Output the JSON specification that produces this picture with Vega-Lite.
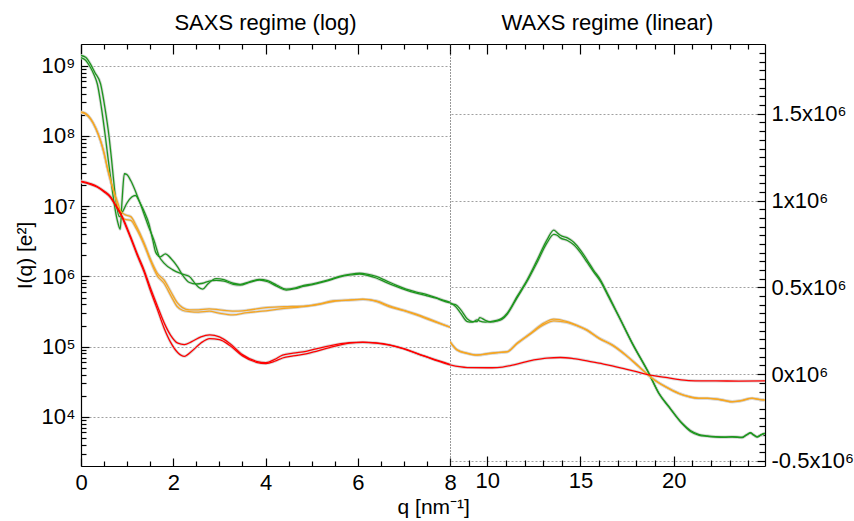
{
  "$schema": "https://vega.github.io/schema/vega-lite/v6.json",
  "background": "white",
  "padding": {"left": 14, "top": 12, "right": 5, "bottom": 5},
  "bounds": "flush",
  "spacing": 0,
  "config": {
    "font": "Liberation Sans",
    "view": {"stroke": null},
    "axis": {"labelFont": "Liberation Sans", "labelFontSize": 22, "labelColor": "black", "titleFont": "Liberation Sans", "titleFontSize": 21, "titleFontWeight": "normal", "titleColor": "black", "domainColor": "black", "domainWidth": 1.2, "tickColor": "black", "tickWidth": 1.2, "labelOverlap": false, "labelFlush": false, "gridColor": "#888888", "gridDash": [2, 2], "gridWidth": 0.8},
    "title": {"font": "Liberation Sans", "fontSize": 22, "fontWeight": "normal", "color": "black"}
  },
  "title": {"text": "q [nm⁻¹]", "orient": "bottom", "anchor": "middle", "offset": 4, "fontSize": 21},
  "datasets": {
    "saxs": [
      {"q":0,"I":1.30e9,"s":"g","c":"g1"},{"q":0.1,"I":1.2e9,"s":"g","c":"g1"},{"q":0.2,"I":9.6e8,"s":"g","c":"g1"},{"q":0.28,"I":7.5e8,"s":"g","c":"g1"},{"q":0.354,"I":5.5e8,"s":"g","c":"g1"},{"q":0.44,"I":2.6e8,"s":"g","c":"g1"},{"q":0.53,"I":9.6e7,"s":"g","c":"g1"},{"q":0.59,"I":4.6e7,"s":"g","c":"g1"},{"q":0.64,"I":2.6e7,"s":"g","c":"g1"},{"q":0.68,"I":1.67e7,"s":"g","c":"g1"},{"q":0.74,"I":9e6,"s":"g","c":"g1"},{"q":0.8,"I":5.8e6,"s":"g","c":"g1"},{"q":0.85,"I":4.7e6,"s":"g","c":"g1"},{"q":0.89,"I":1.2e7,"s":"g","c":"g1"},{"q":0.94,"I":2.9e7,"s":"g","c":"g1"},{"q":1.0,"I":2.8e7,"s":"g","c":"g1"},{"q":1.08,"I":2.3e7,"s":"g","c":"g1"},{"q":1.17,"I":1.7e7,"s":"g","c":"g1"},{"q":1.26,"I":1.2e7,"s":"g","c":"g1"},{"q":1.37,"I":8.4e6,"s":"g","c":"g1"},{"q":1.47,"I":5.7e6,"s":"g","c":"g1"},{"q":1.56,"I":3.2e6,"s":"g","c":"g1"},{"q":1.62,"I":2.2e6,"s":"g","c":"g1"},{"q":1.72,"I":1.9e6,"s":"g","c":"g1"},{"q":1.83,"I":2.1e6,"s":"g","c":"g1"},{"q":1.95,"I":1.8e6,"s":"g","c":"g1"},{"q":2.09,"I":1.38e6,"s":"g","c":"g1"},{"q":2.2,"I":1.05e6,"s":"g","c":"g1"},{"q":2.35,"I":8.2e5,"s":"g","c":"g1"},{"q":2.5,"I":7.8e5,"s":"g","c":"g1"},{"q":2.64,"I":8.0e5,"s":"g","c":"g1"},{"q":2.78,"I":8.6e5,"s":"g","c":"g1"},{"q":2.93,"I":8.8e5,"s":"g","c":"g1"},{"q":3.1,"I":8.6e5,"s":"g","c":"g1"},{"q":3.3,"I":7.7e5,"s":"g","c":"g1"},{"q":3.45,"I":7.5e5,"s":"g","c":"g1"},{"q":3.65,"I":8.2e5,"s":"g","c":"g1"},{"q":3.87,"I":8.9e5,"s":"g","c":"g1"},{"q":4.05,"I":8.4e5,"s":"g","c":"g1"},{"q":4.25,"I":7.2e5,"s":"g","c":"g1"},{"q":4.45,"I":6.4e5,"s":"g","c":"g1"},{"q":4.65,"I":6.7e5,"s":"g","c":"g1"},{"q":4.81,"I":7.2e5,"s":"g","c":"g1"},{"q":5.0,"I":7.6e5,"s":"g","c":"g1"},{"q":5.24,"I":8.3e5,"s":"g","c":"g1"},{"q":5.45,"I":9.1e5,"s":"g","c":"g1"},{"q":5.6,"I":9.8e5,"s":"g","c":"g1"},{"q":5.85,"I":1.05e6,"s":"g","c":"g1"},{"q":6.04,"I":1.08e6,"s":"g","c":"g1"},{"q":6.2,"I":1.04e6,"s":"g","c":"g1"},{"q":6.4,"I":9.5e5,"s":"g","c":"g1"},{"q":6.6,"I":8.3e5,"s":"g","c":"g1"},{"q":6.83,"I":7.2e5,"s":"g","c":"g1"},{"q":7.05,"I":6.4e5,"s":"g","c":"g1"},{"q":7.27,"I":5.8e5,"s":"g","c":"g1"},{"q":7.5,"I":5.3e5,"s":"g","c":"g1"},{"q":7.7,"I":4.9e5,"s":"g","c":"g1"},{"q":7.85,"I":4.5e5,"s":"g","c":"g1"},{"q":8.0,"I":4.2e5,"s":"g","c":"g1"},
      {"q":0,"I":1.40e9,"s":"g","c":"g2"},{"q":0.1,"I":1.32e9,"s":"g","c":"g2"},{"q":0.2,"I":1.07e9,"s":"g","c":"g2"},{"q":0.3,"I":8.0e8,"s":"g","c":"g2"},{"q":0.425,"I":5.5e8,"s":"g","c":"g2"},{"q":0.52,"I":2.5e8,"s":"g","c":"g2"},{"q":0.61,"I":9.6e7,"s":"g","c":"g2"},{"q":0.66,"I":4.8e7,"s":"g","c":"g2"},{"q":0.70,"I":2.6e7,"s":"g","c":"g2"},{"q":0.73,"I":1.67e7,"s":"g","c":"g2"},{"q":0.78,"I":9.5e6,"s":"g","c":"g2"},{"q":0.83,"I":7.1e6,"s":"g","c":"g2"},{"q":0.9,"I":8.3e6,"s":"g","c":"g2"},{"q":1.0,"I":1.12e7,"s":"g","c":"g2"},{"q":1.1,"I":1.35e7,"s":"g","c":"g2"},{"q":1.18,"I":1.42e7,"s":"g","c":"g2"},{"q":1.27,"I":1.15e7,"s":"g","c":"g2"},{"q":1.37,"I":7.6e6,"s":"g","c":"g2"},{"q":1.47,"I":5.0e6,"s":"g","c":"g2"},{"q":1.58,"I":3.3e6,"s":"g","c":"g2"},{"q":1.69,"I":1.96e6,"s":"g","c":"g2"},{"q":1.8,"I":1.55e6,"s":"g","c":"g2"},{"q":1.99,"I":1.24e6,"s":"g","c":"g2"},{"q":2.2,"I":1.08e6,"s":"g","c":"g2"},{"q":2.35,"I":1.0e6,"s":"g","c":"g2"},{"q":2.45,"I":8.3e5,"s":"g","c":"g2"},{"q":2.55,"I":7.0e5,"s":"g","c":"g2"},{"q":2.64,"I":6.6e5,"s":"g","c":"g2"},{"q":2.75,"I":7.8e5,"s":"g","c":"g2"},{"q":2.85,"I":8.9e5,"s":"g","c":"g2"},{"q":2.93,"I":9.3e5,"s":"g","c":"g2"},{"q":3.1,"I":9.0e5,"s":"g","c":"g2"},{"q":3.3,"I":8.0e5,"s":"g","c":"g2"},{"q":3.45,"I":7.7e5,"s":"g","c":"g2"},{"q":3.65,"I":8.4e5,"s":"g","c":"g2"},{"q":3.87,"I":9.1e5,"s":"g","c":"g2"},{"q":4.05,"I":8.7e5,"s":"g","c":"g2"},{"q":4.25,"I":7.5e5,"s":"g","c":"g2"},{"q":4.45,"I":6.6e5,"s":"g","c":"g2"},{"q":4.65,"I":6.9e5,"s":"g","c":"g2"},{"q":4.81,"I":7.4e5,"s":"g","c":"g2"},{"q":5.0,"I":7.8e5,"s":"g","c":"g2"},{"q":5.24,"I":8.5e5,"s":"g","c":"g2"},{"q":5.45,"I":9.3e5,"s":"g","c":"g2"},{"q":5.6,"I":1.0e6,"s":"g","c":"g2"},{"q":5.85,"I":1.08e6,"s":"g","c":"g2"},{"q":6.04,"I":1.11e6,"s":"g","c":"g2"},{"q":6.2,"I":1.08e6,"s":"g","c":"g2"},{"q":6.4,"I":1.0e6,"s":"g","c":"g2"},{"q":6.6,"I":8.8e5,"s":"g","c":"g2"},{"q":6.83,"I":7.5e5,"s":"g","c":"g2"},{"q":7.05,"I":6.6e5,"s":"g","c":"g2"},{"q":7.27,"I":6.0e5,"s":"g","c":"g2"},{"q":7.5,"I":5.5e5,"s":"g","c":"g2"},{"q":7.7,"I":5.0e5,"s":"g","c":"g2"},{"q":7.85,"I":4.6e5,"s":"g","c":"g2"},{"q":8.0,"I":4.3e5,"s":"g","c":"g2"},
      {"q":0,"I":2.2e8,"s":"o","c":"o1"},{"q":0.1,"I":2.1e8,"s":"o","c":"o1"},{"q":0.21,"I":1.76e8,"s":"o","c":"o1"},{"q":0.32,"I":1.3e8,"s":"o","c":"o1"},{"q":0.425,"I":8.6e7,"s":"o","c":"o1"},{"q":0.5,"I":5.8e7,"s":"o","c":"o1"},{"q":0.57,"I":3.6e7,"s":"o","c":"o1"},{"q":0.64,"I":2.4e7,"s":"o","c":"o1"},{"q":0.72,"I":1.6e7,"s":"o","c":"o1"},{"q":0.8,"I":1.1e7,"s":"o","c":"o1"},{"q":0.86,"I":8.5e6,"s":"o","c":"o1"},{"q":0.95,"I":7.6e6,"s":"o","c":"o1"},{"q":1.08,"I":7.1e6,"s":"o","c":"o1"},{"q":1.2,"I":5.2e6,"s":"o","c":"o1"},{"q":1.37,"I":2.98e6,"s":"o","c":"o1"},{"q":1.5,"I":1.8e6,"s":"o","c":"o1"},{"q":1.655,"I":1.11e6,"s":"o","c":"o1"},{"q":1.8,"I":8.9e5,"s":"o","c":"o1"},{"q":1.95,"I":6.0e5,"s":"o","c":"o1"},{"q":2.09,"I":4.2e5,"s":"o","c":"o1"},{"q":2.2,"I":3.6e5,"s":"o","c":"o1"},{"q":2.35,"I":3.34e5,"s":"o","c":"o1"},{"q":2.55,"I":3.35e5,"s":"o","c":"o1"},{"q":2.78,"I":3.45e5,"s":"o","c":"o1"},{"q":3.0,"I":3.35e5,"s":"o","c":"o1"},{"q":3.29,"I":3.2e5,"s":"o","c":"o1"},{"q":3.6,"I":3.3e5,"s":"o","c":"o1"},{"q":4.01,"I":3.6e5,"s":"o","c":"o1"},{"q":4.4,"I":3.7e5,"s":"o","c":"o1"},{"q":4.88,"I":3.8e5,"s":"o","c":"o1"},{"q":5.2,"I":4.1e5,"s":"o","c":"o1"},{"q":5.46,"I":4.5e5,"s":"o","c":"o1"},{"q":5.8,"I":4.6e5,"s":"o","c":"o1"},{"q":6.11,"I":4.75e5,"s":"o","c":"o1"},{"q":6.4,"I":4.4e5,"s":"o","c":"o1"},{"q":6.69,"I":3.7e5,"s":"o","c":"o1"},{"q":7.0,"I":3.25e5,"s":"o","c":"o1"},{"q":7.27,"I":2.84e5,"s":"o","c":"o1"},{"q":7.6,"I":2.35e5,"s":"o","c":"o1"},{"q":8.0,"I":1.9e5,"s":"o","c":"o1"},
      {"q":0,"I":2.15e8,"s":"o","c":"o2"},{"q":0.1,"I":2.05e8,"s":"o","c":"o2"},{"q":0.21,"I":1.72e8,"s":"o","c":"o2"},{"q":0.32,"I":1.27e8,"s":"o","c":"o2"},{"q":0.425,"I":8.4e7,"s":"o","c":"o2"},{"q":0.5,"I":5.6e7,"s":"o","c":"o2"},{"q":0.57,"I":3.5e7,"s":"o","c":"o2"},{"q":0.64,"I":2.3e7,"s":"o","c":"o2"},{"q":0.72,"I":1.5e7,"s":"o","c":"o2"},{"q":0.8,"I":9.8e6,"s":"o","c":"o2"},{"q":0.86,"I":7.5e6,"s":"o","c":"o2"},{"q":0.95,"I":6.5e6,"s":"o","c":"o2"},{"q":1.08,"I":6.3e6,"s":"o","c":"o2"},{"q":1.2,"I":4.8e6,"s":"o","c":"o2"},{"q":1.37,"I":2.8e6,"s":"o","c":"o2"},{"q":1.5,"I":1.7e6,"s":"o","c":"o2"},{"q":1.655,"I":1.02e6,"s":"o","c":"o2"},{"q":1.8,"I":8.0e5,"s":"o","c":"o2"},{"q":1.95,"I":5.3e5,"s":"o","c":"o2"},{"q":2.09,"I":3.7e5,"s":"o","c":"o2"},{"q":2.2,"I":3.3e5,"s":"o","c":"o2"},{"q":2.35,"I":3.16e5,"s":"o","c":"o2"},{"q":2.55,"I":3.1e5,"s":"o","c":"o2"},{"q":2.78,"I":3.2e5,"s":"o","c":"o2"},{"q":3.0,"I":3.0e5,"s":"o","c":"o2"},{"q":3.29,"I":2.84e5,"s":"o","c":"o2"},{"q":3.6,"I":3.05e5,"s":"o","c":"o2"},{"q":4.01,"I":3.24e5,"s":"o","c":"o2"},{"q":4.4,"I":3.5e5,"s":"o","c":"o2"},{"q":4.88,"I":3.75e5,"s":"o","c":"o2"},{"q":5.2,"I":4.05e5,"s":"o","c":"o2"},{"q":5.46,"I":4.4e5,"s":"o","c":"o2"},{"q":5.8,"I":4.6e5,"s":"o","c":"o2"},{"q":6.11,"I":4.7e5,"s":"o","c":"o2"},{"q":6.4,"I":4.5e5,"s":"o","c":"o2"},{"q":6.69,"I":3.8e5,"s":"o","c":"o2"},{"q":7.0,"I":3.3e5,"s":"o","c":"o2"},{"q":7.27,"I":2.9e5,"s":"o","c":"o2"},{"q":7.6,"I":2.4e5,"s":"o","c":"o2"},{"q":8.0,"I":1.9e5,"s":"o","c":"o2"},
      {"q":0,"I":2.28e7,"s":"r","c":"r1"},{"q":0.2,"I":2.1e7,"s":"r","c":"r1"},{"q":0.354,"I":1.91e7,"s":"r","c":"r1"},{"q":0.5,"I":1.65e7,"s":"r","c":"r1"},{"q":0.642,"I":1.37e7,"s":"r","c":"r1"},{"q":0.75,"I":1.05e7,"s":"r","c":"r1"},{"q":0.859,"I":8.0e6,"s":"r","c":"r1"},{"q":0.97,"I":5.5e6,"s":"r","c":"r1"},{"q":1.076,"I":3.7e6,"s":"r","c":"r1"},{"q":1.22,"I":2.1e6,"s":"r","c":"r1"},{"q":1.367,"I":1.24e6,"s":"r","c":"r1"},{"q":1.5,"I":7.0e5,"s":"r","c":"r1"},{"q":1.655,"I":3.8e5,"s":"r","c":"r1"},{"q":1.8,"I":2.2e5,"s":"r","c":"r1"},{"q":1.944,"I":1.45e5,"s":"r","c":"r1"},{"q":2.1,"I":1.12e5,"s":"r","c":"r1"},{"q":2.24,"I":1.07e5,"s":"r","c":"r1"},{"q":2.4,"I":1.18e5,"s":"r","c":"r1"},{"q":2.6,"I":1.38e5,"s":"r","c":"r1"},{"q":2.79,"I":1.47e5,"s":"r","c":"r1"},{"q":3.0,"I":1.38e5,"s":"r","c":"r1"},{"q":3.22,"I":1.12e5,"s":"r","c":"r1"},{"q":3.5,"I":7.7e4,"s":"r","c":"r1"},{"q":3.8,"I":6.2e4,"s":"r","c":"r1"},{"q":4.01,"I":5.9e4,"s":"r","c":"r1"},{"q":4.2,"I":6.6e4,"s":"r","c":"r1"},{"q":4.37,"I":7.6e4,"s":"r","c":"r1"},{"q":4.6,"I":8.1e4,"s":"r","c":"r1"},{"q":4.88,"I":8.6e4,"s":"r","c":"r1"},{"q":5.1,"I":9.3e4,"s":"r","c":"r1"},{"q":5.39,"I":1.03e5,"s":"r","c":"r1"},{"q":5.82,"I":1.14e5,"s":"r","c":"r1"},{"q":6.11,"I":1.16e5,"s":"r","c":"r1"},{"q":6.4,"I":1.13e5,"s":"r","c":"r1"},{"q":6.69,"I":1.06e5,"s":"r","c":"r1"},{"q":7.0,"I":9.4e4,"s":"r","c":"r1"},{"q":7.27,"I":8.1e4,"s":"r","c":"r1"},{"q":7.6,"I":6.8e4,"s":"r","c":"r1"},{"q":8.0,"I":5.6e4,"s":"r","c":"r1"},
      {"q":0,"I":2.22e7,"s":"r","c":"r2"},{"q":0.2,"I":2.05e7,"s":"r","c":"r2"},{"q":0.354,"I":1.86e7,"s":"r","c":"r2"},{"q":0.5,"I":1.6e7,"s":"r","c":"r2"},{"q":0.642,"I":1.32e7,"s":"r","c":"r2"},{"q":0.75,"I":1.01e7,"s":"r","c":"r2"},{"q":0.859,"I":7.6e6,"s":"r","c":"r2"},{"q":0.97,"I":5.2e6,"s":"r","c":"r2"},{"q":1.076,"I":3.5e6,"s":"r","c":"r2"},{"q":1.22,"I":1.98e6,"s":"r","c":"r2"},{"q":1.367,"I":1.16e6,"s":"r","c":"r2"},{"q":1.5,"I":6.4e5,"s":"r","c":"r2"},{"q":1.655,"I":3.4e5,"s":"r","c":"r2"},{"q":1.8,"I":1.85e5,"s":"r","c":"r2"},{"q":1.944,"I":1.15e5,"s":"r","c":"r2"},{"q":2.1,"I":8.2e4,"s":"r","c":"r2"},{"q":2.24,"I":7.3e4,"s":"r","c":"r2"},{"q":2.4,"I":8.6e4,"s":"r","c":"r2"},{"q":2.6,"I":1.13e5,"s":"r","c":"r2"},{"q":2.79,"I":1.30e5,"s":"r","c":"r2"},{"q":3.0,"I":1.26e5,"s":"r","c":"r2"},{"q":3.22,"I":1.05e5,"s":"r","c":"r2"},{"q":3.5,"I":7.4e4,"s":"r","c":"r2"},{"q":3.8,"I":6.0e4,"s":"r","c":"r2"},{"q":4.01,"I":5.75e4,"s":"r","c":"r2"},{"q":4.2,"I":6.2e4,"s":"r","c":"r2"},{"q":4.37,"I":6.9e4,"s":"r","c":"r2"},{"q":4.6,"I":7.4e4,"s":"r","c":"r2"},{"q":4.88,"I":7.9e4,"s":"r","c":"r2"},{"q":5.1,"I":8.6e4,"s":"r","c":"r2"},{"q":5.39,"I":9.7e4,"s":"r","c":"r2"},{"q":5.82,"I":1.12e5,"s":"r","c":"r2"},{"q":6.11,"I":1.15e5,"s":"r","c":"r2"},{"q":6.4,"I":1.12e5,"s":"r","c":"r2"},{"q":6.69,"I":1.05e5,"s":"r","c":"r2"},{"q":7.0,"I":9.3e4,"s":"r","c":"r2"},{"q":7.27,"I":8.0e4,"s":"r","c":"r2"},{"q":7.6,"I":6.7e4,"s":"r","c":"r2"},{"q":8.0,"I":5.5e4,"s":"r","c":"r2"}
    ],
    "waxs": [
      {"q":8.0,"I":413000,"s":"g","c":"g1"},{"q":8.3,"I":390000,"s":"g","c":"g1"},{"q":8.57,"I":352000,"s":"g","c":"g1"},{"q":8.93,"I":303000,"s":"g","c":"g1"},{"q":9.2,"I":300000,"s":"g","c":"g1"},{"q":9.46,"I":313000,"s":"g","c":"g1"},{"q":9.6,"I":306000,"s":"g","c":"g1"},{"q":9.9,"I":300000,"s":"g","c":"g1"},{"q":10.17,"I":303000,"s":"g","c":"g1"},{"q":10.5,"I":310000,"s":"g","c":"g1"},{"q":10.8,"I":323000,"s":"g","c":"g1"},{"q":11.07,"I":352000,"s":"g","c":"g1"},{"q":11.6,"I":448000,"s":"g","c":"g1"},{"q":12.14,"I":544000,"s":"g","c":"g1"},{"q":12.68,"I":659000,"s":"g","c":"g1"},{"q":13.21,"I":775000,"s":"g","c":"g1"},{"q":13.57,"I":830000,"s":"g","c":"g1"},{"q":13.75,"I":815000,"s":"g","c":"g1"},{"q":13.92,"I":800000,"s":"g","c":"g1"},{"q":14.3,"I":785000,"s":"g","c":"g1"},{"q":14.64,"I":760000,"s":"g","c":"g1"},{"q":15.0,"I":715000,"s":"g","c":"g1"},{"q":15.35,"I":659000,"s":"g","c":"g1"},{"q":15.7,"I":600000,"s":"g","c":"g1"},{"q":16.07,"I":544000,"s":"g","c":"g1"},{"q":16.53,"I":448000,"s":"g","c":"g1"},{"q":17.07,"I":332000,"s":"g","c":"g1"},{"q":17.78,"I":179000,"s":"g","c":"g1"},{"q":18.67,"I":6000,"s":"g","c":"g1"},{"q":19.21,"I":-110000,"s":"g","c":"g1"},{"q":19.75,"I":-187000,"s":"g","c":"g1"},{"q":20.46,"I":-283000,"s":"g","c":"g1"},{"q":20.9,"I":-325000,"s":"g","c":"g1"},{"q":21.37,"I":-348000,"s":"g","c":"g1"},{"q":21.8,"I":-355000,"s":"g","c":"g1"},{"q":22.25,"I":-360000,"s":"g","c":"g1"},{"q":22.7,"I":-362000,"s":"g","c":"g1"},{"q":23.14,"I":-360000,"s":"g","c":"g1"},{"q":23.67,"I":-363000,"s":"g","c":"g1"},{"q":23.9,"I":-350000,"s":"g","c":"g1"},{"q":24.12,"I":-337000,"s":"g","c":"g1"},{"q":24.3,"I":-350000,"s":"g","c":"g1"},{"q":24.48,"I":-360000,"s":"g","c":"g1"},{"q":24.7,"I":-348000,"s":"g","c":"g1"},{"q":24.9,"I":-340000,"s":"g","c":"g1"},
      {"q":8.0,"I":405000,"s":"g","c":"g2"},{"q":8.3,"I":400000,"s":"g","c":"g2"},{"q":8.57,"I":372000,"s":"g","c":"g2"},{"q":8.93,"I":318000,"s":"g","c":"g2"},{"q":9.2,"I":303000,"s":"g","c":"g2"},{"q":9.46,"I":303000,"s":"g","c":"g2"},{"q":9.6,"I":326000,"s":"g","c":"g2"},{"q":9.9,"I":310000,"s":"g","c":"g2"},{"q":10.17,"I":300000,"s":"g","c":"g2"},{"q":10.5,"I":305000,"s":"g","c":"g2"},{"q":10.8,"I":316000,"s":"g","c":"g2"},{"q":11.07,"I":345000,"s":"g","c":"g2"},{"q":11.6,"I":440000,"s":"g","c":"g2"},{"q":12.14,"I":535000,"s":"g","c":"g2"},{"q":12.68,"I":645000,"s":"g","c":"g2"},{"q":13.21,"I":758000,"s":"g","c":"g2"},{"q":13.57,"I":805000,"s":"g","c":"g2"},{"q":13.75,"I":800000,"s":"g","c":"g2"},{"q":13.92,"I":785000,"s":"g","c":"g2"},{"q":14.3,"I":770000,"s":"g","c":"g2"},{"q":14.64,"I":745000,"s":"g","c":"g2"},{"q":15.0,"I":700000,"s":"g","c":"g2"},{"q":15.35,"I":645000,"s":"g","c":"g2"},{"q":15.7,"I":590000,"s":"g","c":"g2"},{"q":16.07,"I":535000,"s":"g","c":"g2"},{"q":16.53,"I":440000,"s":"g","c":"g2"},{"q":17.07,"I":328000,"s":"g","c":"g2"},{"q":17.78,"I":176000,"s":"g","c":"g2"},{"q":18.67,"I":4000,"s":"g","c":"g2"},{"q":19.21,"I":-112000,"s":"g","c":"g2"},{"q":19.75,"I":-190000,"s":"g","c":"g2"},{"q":20.46,"I":-286000,"s":"g","c":"g2"},{"q":20.9,"I":-330000,"s":"g","c":"g2"},{"q":21.37,"I":-352000,"s":"g","c":"g2"},{"q":21.8,"I":-358000,"s":"g","c":"g2"},{"q":22.25,"I":-362000,"s":"g","c":"g2"},{"q":22.7,"I":-364000,"s":"g","c":"g2"},{"q":23.14,"I":-362000,"s":"g","c":"g2"},{"q":23.67,"I":-366000,"s":"g","c":"g2"},{"q":23.9,"I":-352000,"s":"g","c":"g2"},{"q":24.12,"I":-340000,"s":"g","c":"g2"},{"q":24.3,"I":-352000,"s":"g","c":"g2"},{"q":24.48,"I":-362000,"s":"g","c":"g2"},{"q":24.7,"I":-350000,"s":"g","c":"g2"},{"q":24.9,"I":-342000,"s":"g","c":"g2"},
      {"q":8.0,"I":188000,"s":"o","c":"o1"},{"q":8.39,"I":140000,"s":"o","c":"o1"},{"q":8.93,"I":121000,"s":"o","c":"o1"},{"q":9.46,"I":111000,"s":"o","c":"o1"},{"q":10.17,"I":121000,"s":"o","c":"o1"},{"q":10.6,"I":125000,"s":"o","c":"o1"},{"q":11.07,"I":130000,"s":"o","c":"o1"},{"q":11.6,"I":179000,"s":"o","c":"o1"},{"q":12.32,"I":236000,"s":"o","c":"o1"},{"q":13.03,"I":294000,"s":"o","c":"o1"},{"q":13.57,"I":317000,"s":"o","c":"o1"},{"q":14.28,"I":303000,"s":"o","c":"o1"},{"q":14.8,"I":282000,"s":"o","c":"o1"},{"q":15.35,"I":255000,"s":"o","c":"o1"},{"q":16.0,"I":208000,"s":"o","c":"o1"},{"q":16.71,"I":169000,"s":"o","c":"o1"},{"q":17.43,"I":111000,"s":"o","c":"o1"},{"q":18.14,"I":44000,"s":"o","c":"o1"},{"q":18.85,"I":-23000,"s":"o","c":"o1"},{"q":19.57,"I":-72000,"s":"o","c":"o1"},{"q":20.28,"I":-110000,"s":"o","c":"o1"},{"q":20.8,"I":-128000,"s":"o","c":"o1"},{"q":21.35,"I":-138000,"s":"o","c":"o1"},{"q":21.8,"I":-138000,"s":"o","c":"o1"},{"q":22.25,"I":-142000,"s":"o","c":"o1"},{"q":22.7,"I":-150000,"s":"o","c":"o1"},{"q":23.14,"I":-158000,"s":"o","c":"o1"},{"q":23.6,"I":-152000,"s":"o","c":"o1"},{"q":24.21,"I":-138000,"s":"o","c":"o1"},{"q":24.6,"I":-145000,"s":"o","c":"o1"},{"q":24.9,"I":-148000,"s":"o","c":"o1"},
      {"q":8.0,"I":186000,"s":"o","c":"o2"},{"q":8.39,"I":138000,"s":"o","c":"o2"},{"q":8.93,"I":119000,"s":"o","c":"o2"},{"q":9.46,"I":110000,"s":"o","c":"o2"},{"q":10.17,"I":119000,"s":"o","c":"o2"},{"q":10.6,"I":124000,"s":"o","c":"o2"},{"q":11.07,"I":128000,"s":"o","c":"o2"},{"q":11.6,"I":176000,"s":"o","c":"o2"},{"q":12.32,"I":232000,"s":"o","c":"o2"},{"q":13.03,"I":285000,"s":"o","c":"o2"},{"q":13.57,"I":307000,"s":"o","c":"o2"},{"q":14.28,"I":298000,"s":"o","c":"o2"},{"q":14.8,"I":279000,"s":"o","c":"o2"},{"q":15.35,"I":252000,"s":"o","c":"o2"},{"q":16.0,"I":205000,"s":"o","c":"o2"},{"q":16.71,"I":166000,"s":"o","c":"o2"},{"q":17.43,"I":109000,"s":"o","c":"o2"},{"q":18.14,"I":42000,"s":"o","c":"o2"},{"q":18.85,"I":-25000,"s":"o","c":"o2"},{"q":19.57,"I":-74000,"s":"o","c":"o2"},{"q":20.28,"I":-112000,"s":"o","c":"o2"},{"q":20.8,"I":-130000,"s":"o","c":"o2"},{"q":21.35,"I":-140000,"s":"o","c":"o2"},{"q":21.8,"I":-140000,"s":"o","c":"o2"},{"q":22.25,"I":-144000,"s":"o","c":"o2"},{"q":22.7,"I":-152000,"s":"o","c":"o2"},{"q":23.14,"I":-160000,"s":"o","c":"o2"},{"q":23.6,"I":-154000,"s":"o","c":"o2"},{"q":24.21,"I":-140000,"s":"o","c":"o2"},{"q":24.6,"I":-147000,"s":"o","c":"o2"},{"q":24.9,"I":-150000,"s":"o","c":"o2"},
      {"q":8.0,"I":54000,"s":"r","c":"r1"},{"q":8.5,"I":43000,"s":"r","c":"r1"},{"q":8.93,"I":38000,"s":"r","c":"r1"},{"q":10.0,"I":37000,"s":"r","c":"r1"},{"q":10.53,"I":38000,"s":"r","c":"r1"},{"q":11.43,"I":54000,"s":"r","c":"r1"},{"q":12.5,"I":82000,"s":"r","c":"r1"},{"q":13.2,"I":93000,"s":"r","c":"r1"},{"q":13.92,"I":96000,"s":"r","c":"r1"},{"q":14.6,"I":90000,"s":"r","c":"r1"},{"q":15.35,"I":77000,"s":"r","c":"r1"},{"q":16.0,"I":63000,"s":"r","c":"r1"},{"q":16.7,"I":48000,"s":"r","c":"r1"},{"q":17.43,"I":29000,"s":"r","c":"r1"},{"q":18.0,"I":14000,"s":"r","c":"r1"},{"q":18.67,"I":-4000,"s":"r","c":"r1"},{"q":19.57,"I":-19000,"s":"r","c":"r1"},{"q":20.2,"I":-30000,"s":"r","c":"r1"},{"q":20.8,"I":-37000,"s":"r","c":"r1"},{"q":21.5,"I":-39000,"s":"r","c":"r1"},{"q":22.25,"I":-39000,"s":"r","c":"r1"},{"q":23.5,"I":-40000,"s":"r","c":"r1"},{"q":24.9,"I":-39000,"s":"r","c":"r1"}
    ]
  },
  "hconcat": [
    {
      "width": 369,
      "height": 422,
      "title": {"text": "SAXS regime (log)", "offset": 8},
      "data": {"name": "saxs"},
      "layer": [
        {
          "mark": {"type": "line", "color": "#d9d9d9", "strokeWidth": 3, "clip": true, "interpolate": "monotone"},
          "encoding": {
            "x": {"field": "q", "type": "quantitative", "scale": {"domain": [0, 8], "nice": false, "zero": false},
              "axis": {"orient": "bottom", "title": null, "values": [0, 2, 4, 6, 8], "format": "d", "tickSize": -8, "labelPadding": 14, "grid": false}},
            "y": {"field": "I", "type": "quantitative", "scale": {"type": "log", "domain": [2000, 2.04e9], "nice": false},
              "axis": {"orient": "left", "title": "I(q) [e²]", "titlePadding": 6, "values": [10000, 100000, 1000000, 10000000, 100000000, 1000000000],
                "labelExpr": "'10' + ['⁰','¹','²','³','⁴','⁵','⁶','⁷','⁸','⁹'][round(log(datum.value)/LN10)]",
                "tickSize": -8, "labelPadding": 14, "grid": true}},
            "detail": {"field": "c"}
          }
        },
        {
          "mark": {"type": "line", "strokeWidth": 1.3, "clip": true, "interpolate": "monotone"},
          "encoding": {
            "x": {"field": "q", "type": "quantitative",
              "axis": {"orient": "top", "title": null, "labels": false, "values": [0, 2, 4, 6, 8], "tickSize": -10, "grid": false}},
            "y": {"field": "I", "type": "quantitative",
              "axis": {"orient": "right", "title": null, "labels": false, "ticks": false, "grid": false, "domainDash": [1, 2], "domainColor": "#333333", "domainWidth": 1}},
            "color": {"field": "s", "type": "nominal", "scale": {"domain": ["g", "o", "r"], "range": ["#1e961e", "#f5a623", "#ff0000"]}, "legend": null},
            "detail": {"field": "c"}
          }
        },
        {
          "mark": {"type": "line", "opacity": 0, "clip": true},
          "encoding": {
            "x": {"field": "q", "type": "quantitative",
              "axis": {"orient": "bottom", "title": null, "labels": false, "domain": false, "values": [0.5, 1, 1.5, 2.5, 3, 3.5, 4.5, 5, 5.5, 6.5, 7, 7.5], "tickSize": -5, "grid": false}},
            "y": {"field": "I", "type": "quantitative",
              "axis": {"orient": "left", "title": null, "labels": false, "domain": false, "grid": false, "tickSize": -5, "values": [3000,4000,5000,6000,7000,8000,9000,20000,30000,40000,50000,60000,70000,80000,90000,200000,300000,400000,500000,600000,700000,800000,900000,2000000,3000000,4000000,5000000,6000000,7000000,8000000,9000000,20000000,30000000,40000000,50000000,60000000,70000000,80000000,90000000,200000000,300000000,400000000,500000000,600000000,700000000,800000000,900000000]}},
            "detail": {"field": "c"}
          }
        },
        {
          "mark": {"type": "line", "opacity": 0, "clip": true},
          "encoding": {
            "x": {"field": "q", "type": "quantitative",
              "axis": {"orient": "top", "title": null, "labels": false, "domain": false, "values": [0.5, 1, 1.5, 2.5, 3, 3.5, 4.5, 5, 5.5, 6.5, 7, 7.5], "tickSize": -5, "grid": false}},
            "y": {"field": "I", "type": "quantitative", "axis": null},
            "detail": {"field": "c"}
          }
        }
      ],
      "resolve": {"axis": {"x": "independent", "y": "independent"}}
    },
    {
      "width": 315,
      "height": 422,
      "title": {"text": "WAXS regime (linear)", "offset": 8},
      "data": {"name": "waxs"},
      "layer": [
        {
          "mark": {"type": "line", "color": "#d9d9d9", "strokeWidth": 3, "clip": true, "interpolate": "monotone"},
          "encoding": {
            "x": {"field": "q", "type": "quantitative", "scale": {"domain": [8, 24.9], "nice": false, "zero": false},
              "axis": {"orient": "bottom", "title": null, "values": [10, 15, 20], "tickSize": -10, "labelPadding": 14, "grid": false}},
            "y": {"field": "I", "type": "quantitative", "scale": {"domain": [-529000, 1902000], "nice": false, "zero": false},
              "axis": {"orient": "right", "title": null, "values": [-500000, 0, 500000, 1000000, 1500000],
                "labelExpr": "(round(datum.value/100000)/10) + 'x10⁶'",
                "tickSize": -8, "labelPadding": 14, "grid": true}},
            "detail": {"field": "c"}
          }
        },
        {
          "mark": {"type": "line", "strokeWidth": 1.3, "clip": true, "interpolate": "monotone"},
          "encoding": {
            "x": {"field": "q", "type": "quantitative",
              "axis": {"orient": "top", "title": null, "labels": false, "values": [10, 15, 20], "tickSize": -10, "grid": false}},
            "y": {"field": "I", "type": "quantitative", "axis": null},
            "color": {"field": "s", "type": "nominal", "scale": {"domain": ["g", "o", "r"], "range": ["#1e961e", "#f5a623", "#ff0000"]}, "legend": null},
            "detail": {"field": "c"}
          }
        },
        {
          "mark": {"type": "line", "opacity": 0, "clip": true},
          "encoding": {
            "x": {"field": "q", "type": "quantitative",
              "axis": {"orient": "bottom", "title": null, "labels": false, "domain": false, "values": [9, 11, 12, 13, 14, 16, 17, 18, 19, 21, 22, 23, 24], "tickSize": -6, "grid": false}},
            "y": {"field": "I", "type": "quantitative",
              "axis": {"orient": "right", "title": null, "labels": false, "domain": false, "grid": false, "tickSize": -6, "values": [-450000,-400000,-350000,-300000,-250000,-200000,-150000,-100000,-50000,50000,100000,150000,200000,250000,300000,350000,400000,450000,550000,600000,650000,700000,750000,800000,850000,900000,950000,1050000,1100000,1150000,1200000,1250000,1300000,1350000,1400000,1450000,1550000,1600000,1650000,1700000,1750000,1800000,1850000]}},
            "detail": {"field": "c"}
          }
        },
        {
          "mark": {"type": "line", "opacity": 0, "clip": true},
          "encoding": {
            "x": {"field": "q", "type": "quantitative",
              "axis": {"orient": "top", "title": null, "labels": false, "domain": false, "values": [9, 11, 12, 13, 14, 16, 17, 18, 19, 21, 22, 23, 24], "tickSize": -5, "grid": false}},
            "y": {"field": "I", "type": "quantitative", "axis": null},
            "detail": {"field": "c"}
          }
        }
      ],
      "resolve": {"axis": {"x": "independent", "y": "independent"}}
    }
  ]
}
